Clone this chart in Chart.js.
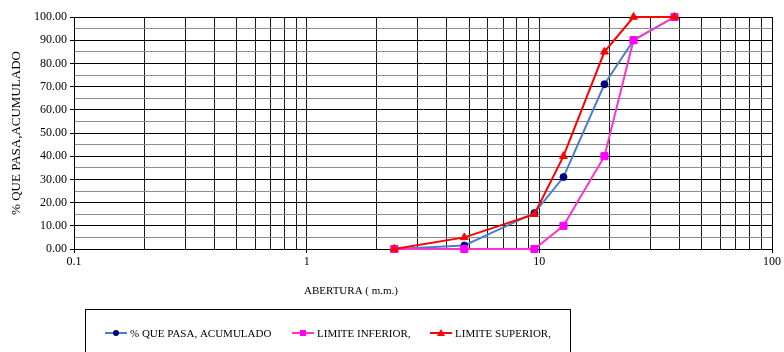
<!DOCTYPE html>
<html>
<head>
<meta charset="utf-8">
<script src="https://cdn.jsdelivr.net/npm/chart.js@4"></script>
<style>
  html, body { margin: 0; padding: 0; background: #fff; }
  #wrap { width: 784px; height: 352px; }
</style>
</head>
<body>
<div id="wrap"><canvas id="granulometria"></canvas></div>
<script>
// tamices (mm)
const aberturas = [2.38, 4.76, 9.525, 12.7, 19.05, 25.4, 38.1];
const pasaAcumulado = [0, 1.5, 15.5, 31, 71, 90, 100];
const limiteInferior = [0, 0, 0, 10, 40, 90, 100];
const limiteSuperior = [0, 5, 15, 40, 85, 100, 100];

const xMarcas = [0.1, 1, 10, 100];
const seriesNombres = ['% QUE PASA, ACUMULADO', 'LIMITE INFERIOR,', 'LIMITE SUPERIOR,'];

const serif = '"Liberation Serif", "Times New Roman", serif';

function puntos(vals) {
    return aberturas.map((a, i) => ({ x: a, y: vals[i] }));
}

// lineas verticales 1..9 por decada
const gridX = [];
for (let d = 0.1; d < 100; d *= 10) {
    for (let m = 1; m < 10; m++) gridX.push(+(d * m).toPrecision(3));
}
gridX.push(100);

const esMarca = v => xMarcas.some(m => Math.abs(m - v) < 1e-9);

const extras = {
    id: 'extras',
    beforeDatasetsDraw(chart) {
        const c = chart.ctx;
        const a = chart.chartArea;
        c.save();
        c.strokeStyle = '#000';
        c.lineWidth = 1;
        c.strokeRect(a.left + 0.5, a.top + 0.5, a.right - a.left, a.bottom - a.top);
        c.restore();
    },
    afterDraw(chart) {
        const c = chart.ctx;
        c.save();
        // titulo eje x
        c.fillStyle = '#000';
        c.font = '11px ' + serif;
        c.textAlign = 'center';
        c.textBaseline = 'middle';
        c.fillText('ABERTURA ( m.m.)', 351, 291);

        // leyenda
        c.strokeStyle = '#000';
        c.lineWidth = 1;
        c.strokeRect(85.5, 309.5, 485, 50);
        const items = [
            { x: 105, ds: chart.data.datasets[0] },
            { x: 292, ds: chart.data.datasets[1] },
            { x: 430, ds: chart.data.datasets[2] }
        ];
        const ly = 333;
        items.forEach(it => {
            const ds = it.ds;
            c.strokeStyle = ds.borderColor;
            c.lineWidth = 2;
            c.beginPath();
            c.moveTo(it.x, ly);
            c.lineTo(it.x + 22, ly);
            c.stroke();
            c.fillStyle = ds.pointBackgroundColor;
            c.beginPath();
            if (ds.pointStyle === 'circle') {
                c.arc(it.x + 11, ly, 3, 0, Math.PI * 2);
            } else if (ds.pointStyle === 'rect') {
                c.rect(it.x + 8, ly - 3, 6, 6);
            } else {
                c.moveTo(it.x + 11, ly - 4);
                c.lineTo(it.x + 15, ly + 3);
                c.lineTo(it.x + 7, ly + 3);
                c.closePath();
            }
            c.fill();
            c.fillStyle = '#000';
            c.font = '11px ' + serif;
            c.textAlign = 'left';
            c.fillText(ds.label, it.x + 25, ly + 1);
        });
        c.restore();
    }
};

new Chart(document.getElementById('granulometria'), {
    type: 'line',
    data: {
        datasets: [{
            label: seriesNombres[0],
            data: puntos(pasaAcumulado),
            borderColor: '#4A7EC8',
            backgroundColor: '#000080',
            pointBackgroundColor: '#000080',
            pointBorderColor: '#000080',
            pointStyle: 'circle',
            pointRadius: 3.5,
            pointBorderWidth: 1,
            borderWidth: 2,
            clip: false,
            order: 3
        }, {
            label: seriesNombres[1],
            data: puntos(limiteInferior),
            borderColor: '#FF33CC',
            backgroundColor: '#FF00FF',
            pointBackgroundColor: '#FF00FF',
            pointBorderColor: '#FF00FF',
            pointStyle: 'rect',
            pointRadius: 5,
            pointBorderWidth: 1,
            borderWidth: 2,
            clip: false,
            order: 2
        }, {
            label: seriesNombres[2],
            data: puntos(limiteSuperior),
            borderColor: '#FF0000',
            backgroundColor: '#FF0000',
            pointBackgroundColor: '#FF0000',
            pointBorderColor: '#FF0000',
            pointStyle: 'triangle',
            pointRadius: 4.5,
            pointBorderWidth: 1,
            borderWidth: 2,
            clip: false,
            order: 1
        }]
    },
    options: {
        responsive: true,
        maintainAspectRatio: false,
        animation: false,
        layout: { padding: { left: 0, right: 12, top: 17, bottom: 0 } },
        plugins: {
            legend: { display: false },
            tooltip: { enabled: false }
        },
        scales: {
            x: {
                type: 'logarithmic',
                min: 0.1,
                max: 100,
                afterBuildTicks: s => { s.ticks = gridX.map(v => ({ value: v })); },
                afterFit: s => { s.height = 103; },
                border: { color: '#000', width: 1 },
                grid: {
                    color: '#1a1a1a',
                    lineWidth: 1,
                    tickLength: 4,
                    tickColor: ctx => esMarca(ctx.tick.value) ? '#000' : 'rgba(0,0,0,0)'
                },
                ticks: {
                    autoSkip: false,
                    maxRotation: 0,
                    padding: 2,
                    color: '#000',
                    font: { family: serif, size: 12 },
                    callback: v => esMarca(v) ? String(v) : ''
                }
            },
            y: {
                min: 0,
                max: 100,
                afterFit: s => { s.width = 74; },
                border: { color: '#000', width: 1 },
                grid: {
                    color: ctx => ctx.tick.value % 10 === 0 ? '#000' : '#8c8c8c',
                    lineWidth: 1,
                    tickLength: 4,
                    tickColor: ctx => ctx.tick.value % 10 === 0 ? '#000' : 'rgba(0,0,0,0)'
                },
                ticks: {
                    stepSize: 5,
                    autoSkip: false,
                    padding: 3,
                    color: '#000',
                    font: { family: serif, size: 12 },
                    callback: v => v % 10 === 0 ? v.toFixed(2) : ''
                },
                title: {
                    display: true,
                    text: '% QUE PASA,ACUMULADO',
                    color: '#000',
                    font: { family: serif, size: 13 },
                    padding: { top: 9, bottom: 0 }
                }
            }
        }
    },
    plugins: [extras]
});
</script>
</body>
</html>
